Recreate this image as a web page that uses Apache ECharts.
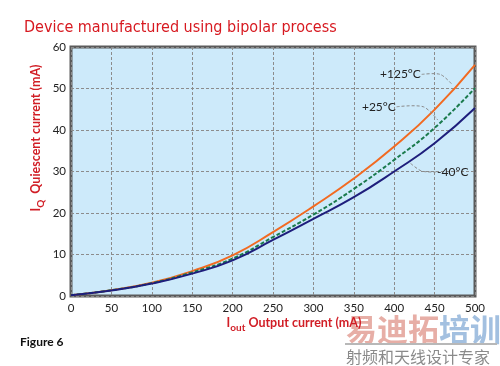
<!DOCTYPE html>
<html>
<head>
<meta charset="utf-8">
<script src="https://cdn.jsdelivr.net/npm/echarts@6/dist/echarts.min.js"></script>
<style>html,body{margin:0;padding:0;background:#fff}#c{width:500px;height:366px}</style>
</head>
<body>
<div id="c"></div>
<script>
// ---- data ----
var xValues = [0, 50, 100, 150, 200, 250, 300, 350, 400, 450, 500];
var hot125 = [0.2, 1.4, 3.2, 6.0, 9.8, 15.4, 21.6, 28.3, 36.0, 44.9, 55.7];
var room25 = [0.2, 1.4, 3.1, 5.7, 9.0, 14.2, 19.6, 25.8, 32.8, 40.5, 50.1];
var cold40 = [0.2, 1.3, 3.0, 5.4, 8.6, 13.5, 18.6, 23.8, 30.0, 36.8, 45.3];
var seriesNames = ['+125°C', '+25°C', '-40°C'];
var xTicks = [0, 50, 100, 150, 200, 250, 300, 350, 400, 450, 500];
var yTicks = [0, 10, 20, 30, 40, 50, 60];
// annotation anchor points in data coordinates (label end, leader path)
var annot125 = [[434, 53.4], [457, 53.4], [472, 50.9]];
var annot25 = [[403, 45.6], [436, 45.6], [454, 42.4]];
var annotM40 = [[452, 29.9], [434, 30.1], [420, 32.0]];

function pairs(ys) { return xValues.map(function (x, i) { return [x, ys[i]]; }); }

var chart = echarts.init(document.getElementById('c'));
var font = 'Lato, "Noto Sans", sans-serif';
chart.setOption({
  animation: false,
  title: {
    text: 'Device manufactured using bipolar process',
    left: 19, top: 15,
    textStyle: { color: '#d71920', fontSize: 16, fontWeight: 'normal', fontFamily: '"DejaVu Sans Condensed", "Noto Sans", sans-serif' }
  },
  grid: {
    left: 71, right: 25, top: 47, bottom: 70,
    show: true, backgroundColor: '#cdeafa', borderColor: '#5b5b5b', borderWidth: 3
  },
  xAxis: {
    type: 'value', min: xTicks[0], max: xTicks[xTicks.length - 1], interval: 50,
    axisLine: { show: false }, axisTick: { show: false },
    axisLabel: { color: '#222', fontSize: 11.5, fontFamily: font, margin: 6 },
    splitLine: { show: true, lineStyle: { color: '#8c8c8c', type: [3, 2], width: 1 } }
  },
  yAxis: {
    type: 'value', min: yTicks[0], max: yTicks[yTicks.length - 1], interval: 10,
    axisLine: { show: false }, axisTick: { show: false },
    axisLabel: { color: '#222', fontSize: 11.5, fontFamily: font, margin: 5 },
    splitLine: { show: true, lineStyle: { color: '#8c8c8c', type: [3, 2], width: 1 } }
  },
  series: [
    { name: seriesNames[0], type: 'line', smooth: true, symbol: 'none', data: pairs(hot125),
      lineStyle: { color: '#f26a21', width: 2 }, z: 3 },
    { name: seriesNames[1], type: 'line', smooth: true, symbol: 'none', data: pairs(room25),
      lineStyle: { color: '#1a7a4c', width: 2, type: [4, 2] }, z: 4 },
    { name: seriesNames[2], type: 'line', smooth: true, symbol: 'none', data: pairs(cold40),
      lineStyle: { color: '#1e1e7c', width: 2 }, z: 5 }
  ]
});

function px(p) { return chart.convertToPixel({ gridIndex: 0 }, p); }
function leader(pts) {
  return { type: 'polyline', z: 10, shape: { points: pts.map(px), smooth: 0.3 },
    style: { stroke: '#8a8a8a', lineWidth: 1, lineDash: [3, 2], fill: null } };
}
function label(text, p, align) {
  var q = px(p);
  return { type: 'text', z: 11, x: q[0], y: q[1],
    style: { text: text, fill: '#222', font: '12px ' + font, align: align, verticalAlign: 'middle' } };
}
var redRich = {
  a: { fill: '#d11e26', fontSize: 12.5, fontWeight: 'bold', fontFamily: font, lineHeight: 17 },
  s: { fill: '#d11e26', fontSize: 10, fontWeight: 'bold', fontFamily: font, padding: [10, 0, 0, 0] }
};
chart.setOption({
  graphic: [
    leader(annot125), label(seriesNames[0], [annot125[0][0] - 1, annot125[0][1]], 'right'),
    leader(annot25), label(seriesNames[1], [annot25[0][0] - 1, annot25[0][1]], 'right'),
    leader(annotM40), label(seriesNames[2], [annotM40[0][0] + 1, annotM40[0][1]], 'left'),
    { type: 'text', x: 36, y: 138, rotation: Math.PI / 2, z: 20,
      style: { text: '{a|I}{s|Q}{a|  Quiescent current (mA)}', rich: redRich, align: 'center', verticalAlign: 'middle' } },
    { type: 'text', x: 294, y: 323, z: 20,
      style: { text: '{a|I}{s|out}{a| Output current (mA)}', rich: redRich, align: 'center', verticalAlign: 'middle' } },
    { type: 'text', x: 20, y: 342, z: 20,
      style: { text: 'Figure 6', fill: '#111', font: 'bold 12px ' + font, verticalAlign: 'middle' } },
    { type: 'text', x: 346, y: 329, z: 1,
      style: { text: '{p|易迪拓}{b|培训}', verticalAlign: 'middle',
        rich: { p: { fill: '#e7aea6', fontSize: 31, fontWeight: 'bold', fontFamily: '"Noto Sans CJK SC"' },
                b: { fill: '#a3c0e0', fontSize: 31, fontWeight: 'bold', fontFamily: '"Noto Sans CJK SC"' } } } },
    { type: 'rect', z: 1, shape: { x: 345, y: 343, width: 152, height: 2 }, style: { fill: '#b8b8b8' } },
    { type: 'text', x: 346, y: 357, z: 1,
      style: { text: '射频和天线设计专家', fill: '#8a8a8a', font: '16px "Noto Sans CJK SC"', verticalAlign: 'middle' } }
  ]
});
</script>
</body>
</html>
